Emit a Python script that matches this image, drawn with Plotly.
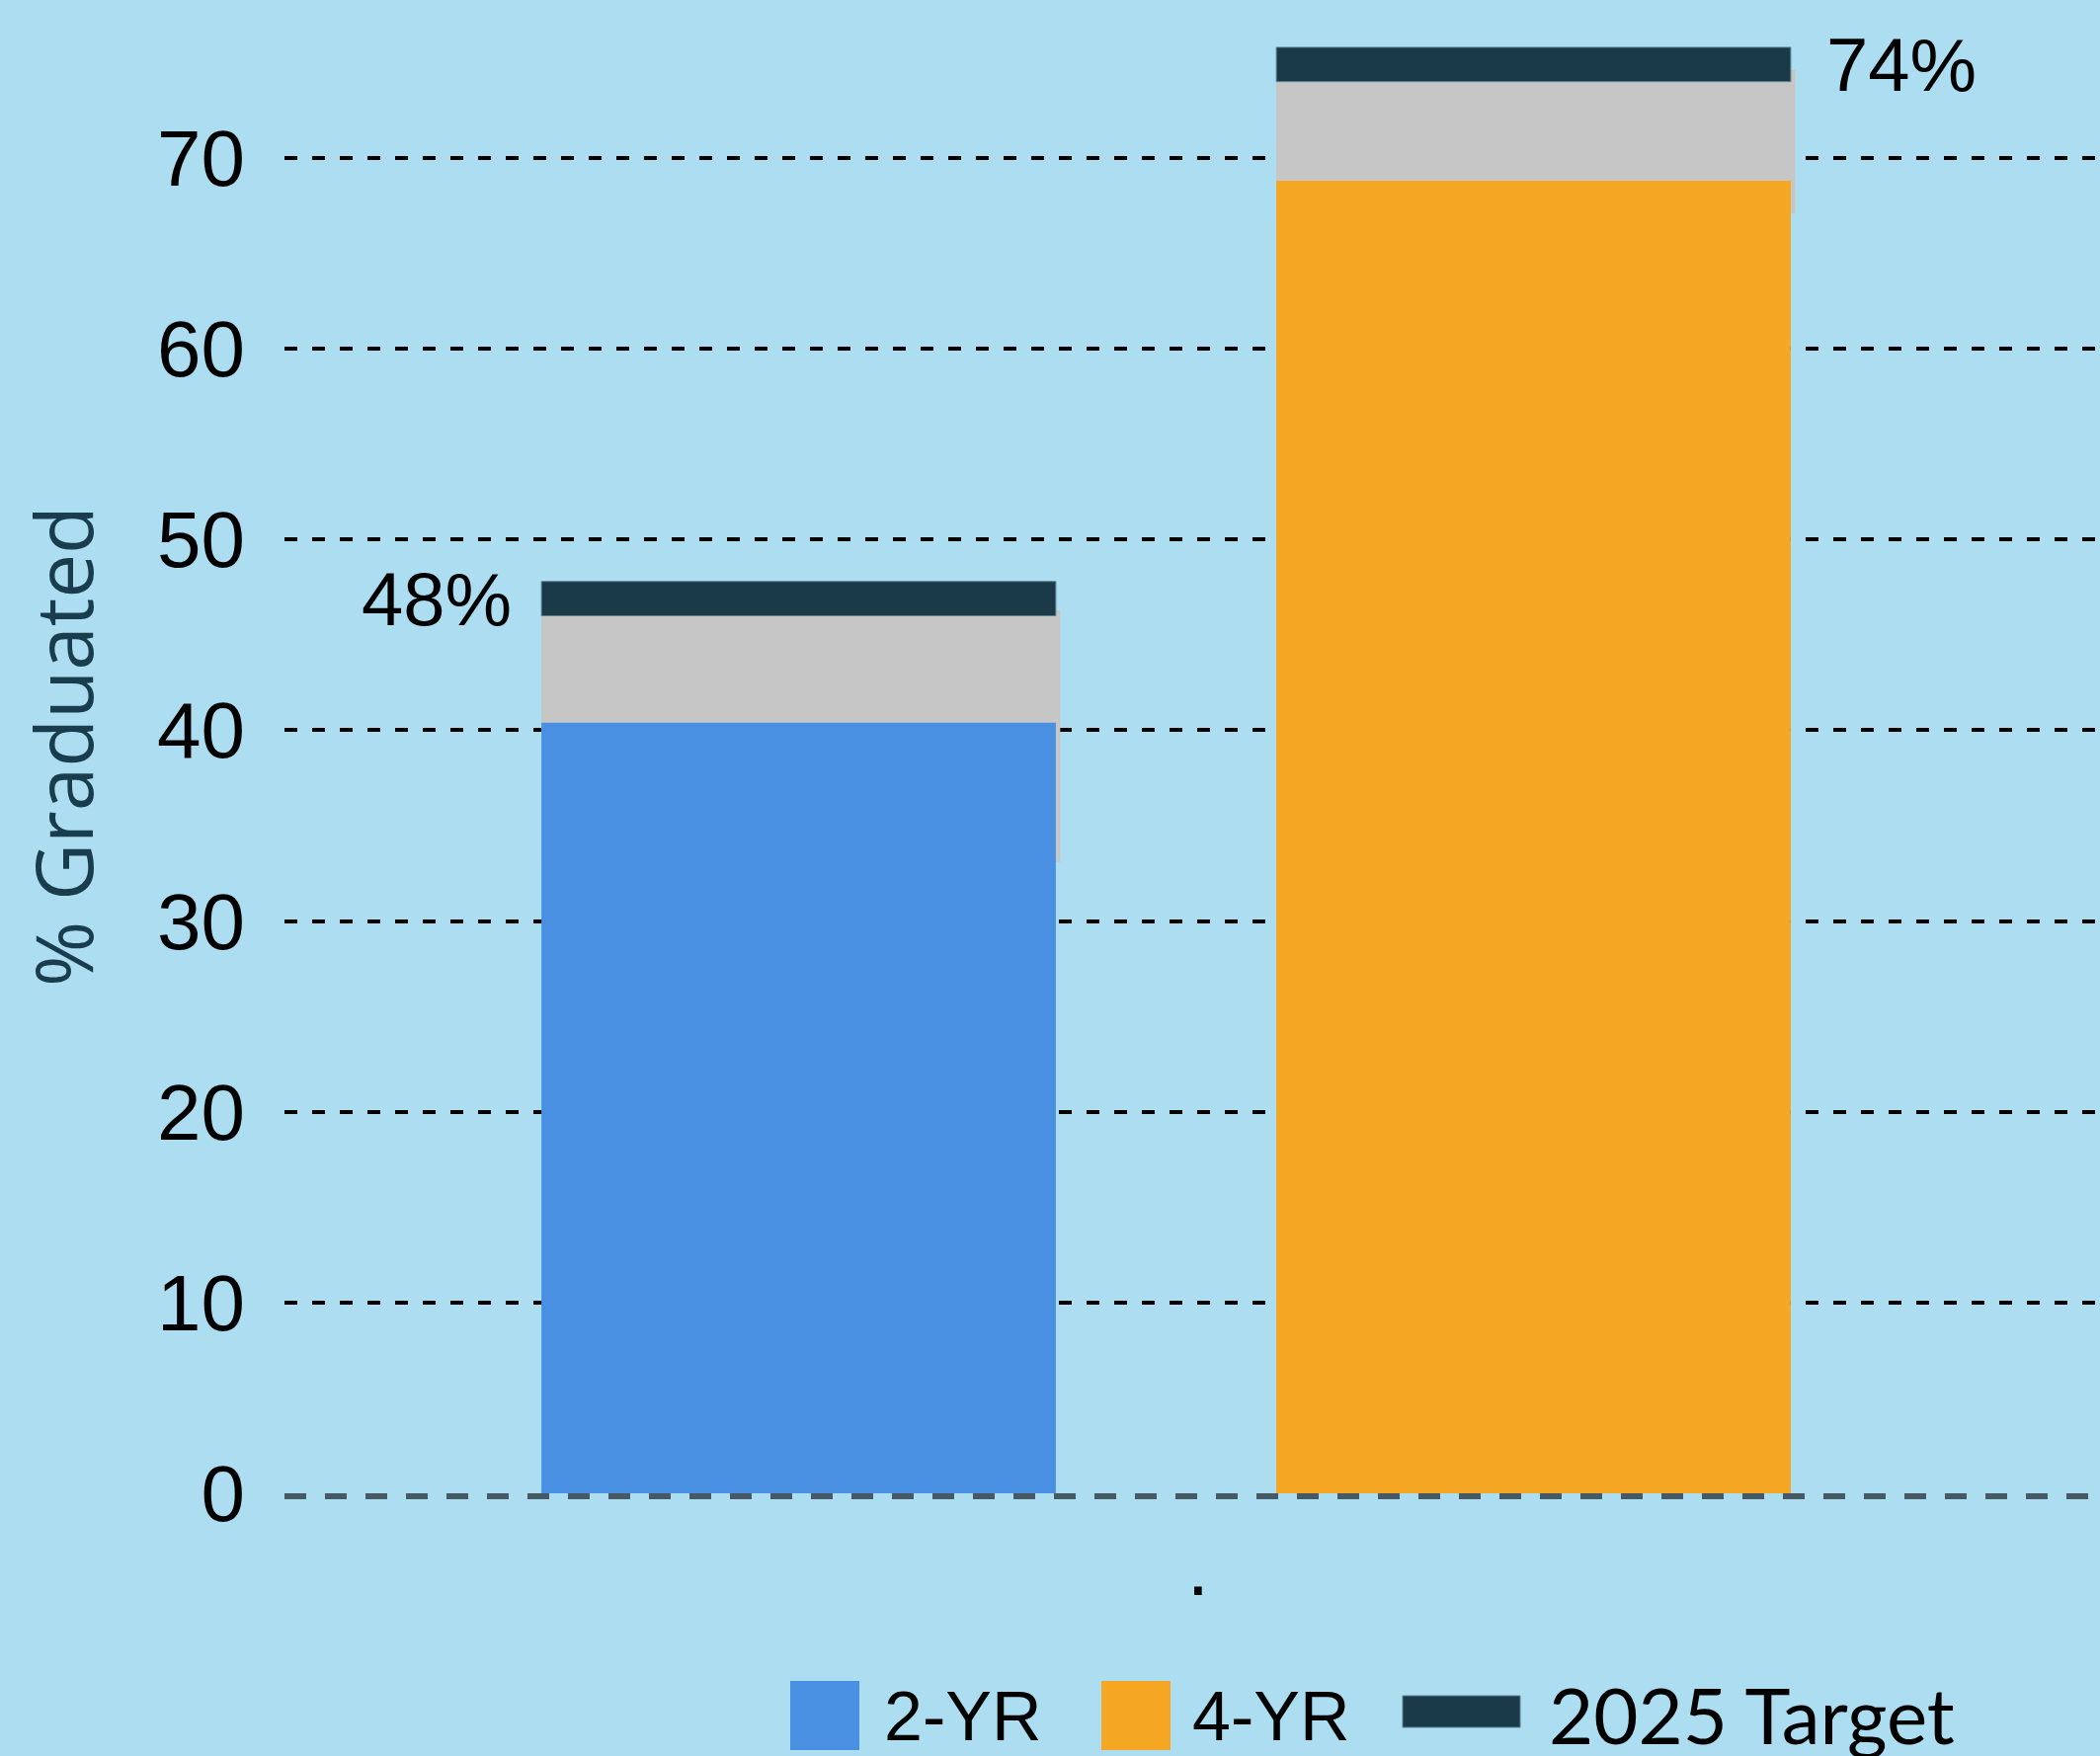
import plotly.graph_objects as go

# ---------------- data ----------------
categories = ["2-YR", "4-YR"]
grad_rate = [40.4, 68.8]            # current % graduated
range_low = [33.1, 67.1]            # grey band (low)
range_high = [46.3, 74.6]           # grey band (high)
target_low = [46.0, 74.0]           # 2025 target marker (bottom)
target_high = [47.8, 75.8]          # 2025 target marker (top)
target_labels = ["48%", "74%"]
y_ticks = [0, 10, 20, 30, 40, 50, 60, 70]
x_tick_label = "."
legend_labels = ["2-YR", "4-YR", "2025 Target"]

# ---------------- style ----------------
W, H = 2126, 1778
ML, MR, MT, MB = 288, 0, 0, 266
PW, PH = W - ML - MR, H - MT - MB
BG = "#acddf1"
BLUE = "#4a90e2"
ORANGE = "#f5a623"
GREY = "#c6c6c6"
DARK = "#1a3a48"
BAR_W = 0.70
X_RANGE = [-0.6996, 1.7708]
Y_RANGE = [0, 78.28]

bar_colors = [BLUE, ORANGE]
xs = list(range(len(categories)))


def px_x(p):
    return (p - ML) / PW


def px_y(p):
    return (H - MB - p) / PH


fig = go.Figure()

# grey band behind
fig.add_trace(go.Bar(
    x=xs, y=[h - l for h, l in zip(range_high, range_low)], base=range_low,
    width=BAR_W + 0.006, offset=-BAR_W / 2,
    marker=dict(color=GREY, line=dict(width=0)), showlegend=False,
    hoverinfo="skip"))

# main bars
fig.add_trace(go.Bar(
    x=xs, y=grad_rate, width=BAR_W,
    marker=dict(color=bar_colors, line=dict(width=0)),
    showlegend=False, hovertext=categories))

# target markers
fig.add_trace(go.Bar(
    x=xs, y=[h - l for h, l in zip(target_high, target_low)], base=target_low,
    width=BAR_W,
    marker=dict(color=DARK, line=dict(width=1, color="#5d8291")),
    showlegend=False, name="2025 Target"))

annotations = []
# target labels
annotations.append(dict(
    x=xs[0] - BAR_W / 2, y=(target_low[0] + target_high[0]) / 2,
    xref="x", yref="y", text=target_labels[0], showarrow=False,
    xanchor="right", yanchor="middle", xshift=-28,
    font=dict(family="Liberation Sans, Arial", size=76, color="#000000")))
annotations.append(dict(
    x=xs[1] + BAR_W / 2, y=(target_low[1] + target_high[1]) / 2,
    xref="x", yref="y", text=target_labels[1], showarrow=False,
    xanchor="left", yanchor="middle", xshift=34,
    font=dict(family="Liberation Sans, Arial", size=76, color="#000000")))

# y-axis title
annotations.append(dict(
    x=px_x(62), y=0.5, xref="paper", yref="paper", text="% Graduated",
    textangle=-90, showarrow=False, xanchor="center", yanchor="middle",
    font=dict(family="Open Sans", size=80, color="#1a3d4d")))

# custom legend
shapes = []
leg_top, leg_bot = 1702, 1772
shapes.append(dict(type="rect", xref="paper", yref="paper",
                   x0=px_x(800), x1=px_x(870), y0=px_y(leg_bot), y1=px_y(leg_top),
                   fillcolor=BLUE, line=dict(width=0)))
shapes.append(dict(type="rect", xref="paper", yref="paper",
                   x0=px_x(1115), x1=px_x(1185), y0=px_y(leg_bot), y1=px_y(leg_top),
                   fillcolor=ORANGE, line=dict(width=0)))
shapes.append(dict(type="rect", xref="paper", yref="paper",
                   x0=px_x(1420), x1=px_x(1539), y0=px_y(1749), y1=px_y(1717),
                   fillcolor=DARK, line=dict(width=1, color="#5d8291")))
leg_mid = 1738
annotations.append(dict(x=px_x(893), y=px_y(leg_mid), xref="paper", yref="paper",
                        text=legend_labels[0], showarrow=False, xanchor="left",
                        yanchor="middle",
                        font=dict(family="Liberation Sans, Arial", size=70, color="#000")))
annotations.append(dict(x=px_x(1205), y=px_y(leg_mid), xref="paper", yref="paper",
                        text=legend_labels[1], showarrow=False, xanchor="left",
                        yanchor="middle",
                        font=dict(family="Liberation Sans, Arial", size=70, color="#000")))
annotations.append(dict(x=px_x(1566), y=px_y(leg_mid - 2), xref="paper", yref="paper",
                        text=legend_labels[2], showarrow=False, xanchor="left",
                        yanchor="middle",
                        font=dict(family="Lato", size=78, color="#000")))

# dashed zero line (just under the bar bottoms, not clipped by the plot area)
shapes.append(dict(type="line", xref="paper", yref="paper", x0=0, x1=1,
                   y0=px_y(H - MB + 3), y1=px_y(H - MB + 3),
                   line=dict(color="#455a64", width=6, dash="22px,19px"),
                   layer="above"))

fig.update_layout(
    width=W, height=H,
    margin=dict(l=ML, r=MR, t=MT, b=MB, pad=0),
    paper_bgcolor=BG, plot_bgcolor=BG,
    barmode="overlay",
    showlegend=False,
    shapes=shapes,
    annotations=annotations,
    xaxis=dict(range=X_RANGE, tickmode="array",
               tickvals=[(X_RANGE[0] + X_RANGE[1]) / 2 + 0.008], ticktext=[x_tick_label],
               showgrid=False, zeroline=False, showline=False,
               ticks="outside", ticklen=6, tickcolor="rgba(0,0,0,0)",
               tickfont=dict(family="Liberation Sans, Arial", size=80, color="#000")),
    yaxis=dict(range=Y_RANGE, tickmode="array", tickvals=y_ticks,
               showgrid=True, gridcolor="#000000", gridwidth=3.5, griddash="13px,15px",
               zeroline=False, showline=False,
               ticks="outside", ticklen=23, tickcolor="rgba(0,0,0,0)",
               tickfont=dict(family="Liberation Sans, Arial", size=80, color="#000")),
)

fig.write_html(
    "out.html",
    config={"displayModeBar": False},
    post_script="document.body.style.margin='0';document.body.style.overflow='hidden';",
)
